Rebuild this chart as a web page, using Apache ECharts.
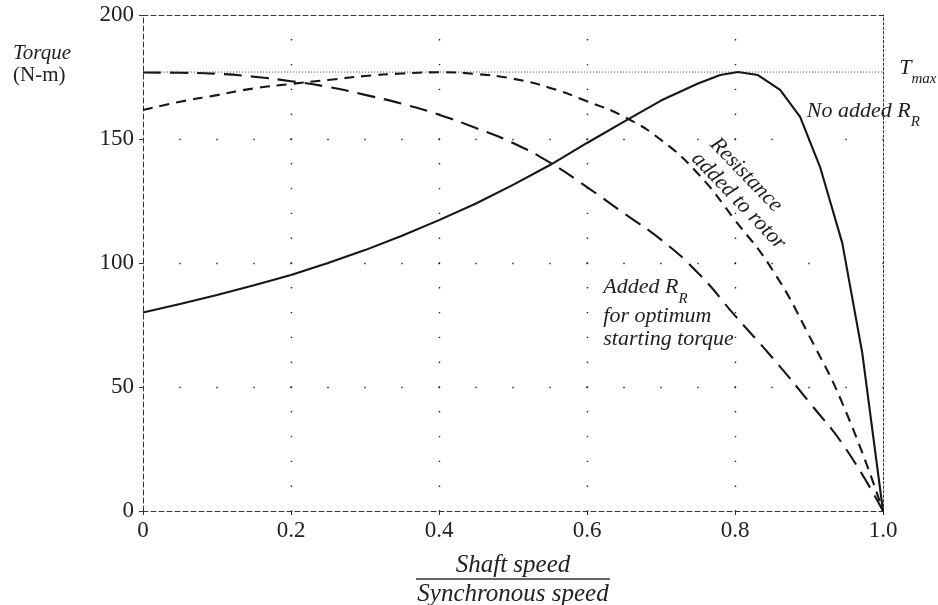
<!DOCTYPE html>
<html><head><meta charset="utf-8">
<script src="https://cdn.jsdelivr.net/npm/echarts@6/dist/echarts.min.js"></script>
<style>html,body{margin:0;padding:0;background:#fff}#c{width:938px;height:605px}</style>
</head><body><div id="c"></div>
<script>
// ---- data ----
const speedNoR  = [0, 0.05, 0.1, 0.15, 0.2, 0.25, 0.3, 0.35, 0.4, 0.45, 0.5, 0.55, 0.6, 0.65, 0.7, 0.75, 0.78, 0.804, 0.831, 0.861, 0.888, 0.915, 0.945, 0.972, 1.0];
const torqueNoR = [80, 83.5, 87.1, 91, 95.2, 100, 105.2, 111, 117.3, 124, 131.5, 139.5, 148.4, 157, 165.5, 172.4, 175.8, 177, 175.8, 169.8, 158.9, 138.7, 108, 63.7, 0];

const speedRotor  = [0, 0.05, 0.1, 0.15, 0.2, 0.25, 0.3, 0.35, 0.4, 0.45, 0.5, 0.55, 0.6, 0.65, 0.7, 0.75, 0.8, 0.85, 0.9, 0.95, 1.0];
const torqueRotor = [161.7, 165, 167.7, 170.4, 172.2, 173.8, 175.4, 176.4, 176.9, 176.2, 174.3, 170.6, 165.2, 159, 149.6, 136, 117.3, 97.5, 70.8, 40, 0];

const speedOpt  = [0, 0.05, 0.1, 0.15, 0.2, 0.25, 0.3, 0.35, 0.4, 0.45, 0.5, 0.55, 0.6, 0.65, 0.7, 0.75, 0.8, 0.85, 0.9, 0.95, 1.0];
const torqueOpt = [176.8, 176.7, 176.3, 175.1, 173.3, 171, 167.8, 164.2, 159.8, 154.4, 148.4, 140.5, 130.6, 120, 109.4, 96, 78.8, 62, 44, 25, 0];

const tMax = 177;
const tMaxLineEnd = 1.012;
const xTickLabels = ['0', '0.2', '0.4', '0.6', '0.8', '1.0'];
const yTickLabels = ['0', '50', '100', '150', '200'];

// ---- chart ----
const F = "'Liberation Serif','Times New Roman',serif";
const INK = '#161616';
const pair = (xs, ys) => xs.map((x, i) => [x, ys[i]]);
const chart = echarts.init(document.getElementById('c'));

const borderAxis = (pos, dash) => ({
  type: 'value', position: pos, min: 0,
  axisLine: { show: true, onZero: false, lineStyle: { color: '#333', width: 1, type: dash } },
  axisTick: { show: false }, axisLabel: { show: false }, splitLine: { show: false }
});

chart.setOption({
  animation: false,
  backgroundColor: '#fff',
  grid: { left: 143, right: 55, top: 15, bottom: 94, outerBoundsMode: 'none', containLabel: false },
  xAxis: [
    {
      type: 'value', position: 'bottom', min: 0, max: 1, interval: 0.2,
      axisLine: { show: true, onZero: false, lineStyle: { color: '#333', width: 1, type: [5, 3] } },
      axisTick: { show: true, length: 4, lineStyle: { color: '#333', width: 1 } },
      axisLabel: { fontFamily: F, fontSize: 23, color: '#222', margin: 8,
        formatter: v => xTickLabels[Math.round(v / 0.2)] },
      splitLine: { show: true, showMinLine: false, showMaxLine: false,
        lineStyle: { color: '#222', width: 1.4, type: [1.4, 23.4], dashOffset: 0.7 } }
    },
    Object.assign(borderAxis('top', [5, 3]), { max: 1, interval: 0.2 })
  ],
  yAxis: [
    {
      type: 'value', position: 'left', min: 0, max: 200, interval: 50,
      axisLine: { show: true, onZero: false, lineStyle: { color: '#333', width: 1, type: [5, 3] } },
      axisTick: { show: true, length: 4, lineStyle: { color: '#333', width: 1 } },
      axisLabel: { fontFamily: F, fontSize: 23, color: '#222', margin: 9,
        formatter: v => yTickLabels[Math.round(v / 50)] },
      splitLine: { show: true, showMinLine: false, showMaxLine: false,
        lineStyle: { color: '#222', width: 1.4, type: [1.4, 35.6], dashOffset: 0.7 } }
    },
    Object.assign(borderAxis('right', [2.5, 2]), { max: 200, interval: 50 })
  ],
  series: [
    { name: 'Tmax', type: 'line', clip: false, symbol: 'none', silent: true,
      data: [[0, tMax], [tMaxLineEnd, tMax]],
      lineStyle: { color: '#555', width: 1, type: [1.2, 1.8] }, z: 1 },
    { name: 'No added R_R', type: 'line', symbol: 'none', smooth: false,
      data: pair(speedNoR, torqueNoR),
      lineStyle: { color: INK, width: 2.1 }, z: 3 },
    { name: 'Resistance added to rotor', type: 'line', symbol: 'none', smooth: true,
      data: pair(speedRotor, torqueRotor),
      lineStyle: { color: INK, width: 2.1, type: [10, 7] }, z: 3 },
    { name: 'Added R_R for optimum starting torque', type: 'line', symbol: 'none', smooth: true,
      data: pair(speedOpt, torqueOpt),
      lineStyle: { color: INK, width: 2.1, type: [18, 9] }, z: 3 }
  ]
});

const P = (x, y) => chart.convertToPixel({ gridIndex: 0 }, [x, y]);
const txt = (pt, text, extra) => ({
  type: 'text', x: pt[0], y: pt[1], z: 10,
  style: Object.assign({ text: text, fontFamily: F, fontSize: 22, fontStyle: 'italic', fill: '#222',
    align: 'left', verticalAlign: 'middle' }, extra || {})
});
const subRich = {
  m: { fontFamily: F, fontStyle: 'italic', fontSize: 22, lineHeight: 30, fill: '#222', verticalAlign: 'top' },
  s: { fontFamily: F, fontStyle: 'italic', fontSize: 15, lineHeight: 15, fill: '#222', verticalAlign: 'bottom' }
};

const o = P(0, 0), e = P(1, 0);
const midX = (o[0] + e[0]) / 2;
const rot = -Math.PI / 4 - 0.02;

chart.setOption({
  graphic: [
    // y axis title
    { type: 'text', x: 13, y: 53, style: { text: 'Torque', fontFamily: F, fontStyle: 'italic', fontSize: 21, fill: '#222', verticalAlign: 'middle' } },
    { type: 'text', x: 13, y: 75, style: { text: '(N-m)', fontFamily: F, fontSize: 21, fill: '#222', verticalAlign: 'middle' } },
    // x axis title as a fraction
    { type: 'text', x: midX, y: o[1] + 54, style: { text: 'Shaft speed', fontFamily: F, fontStyle: 'italic', fontSize: 25, fill: '#222', align: 'center', verticalAlign: 'middle' } },
    { type: 'line', shape: { x1: midX - 97, y1: o[1] + 68, x2: midX + 97, y2: o[1] + 68 }, style: { stroke: '#333', lineWidth: 1.4 } },
    { type: 'text', x: midX, y: o[1] + 83, style: { text: 'Synchronous speed', fontFamily: F, fontStyle: 'italic', fontSize: 25, fill: '#222', align: 'center', verticalAlign: 'middle' } },
    // T max
    txt(P(1.022, tMax), '{m|T}{s|max}', { rich: subRich }),
    // No added R_R
    txt(P(0.897, 159.7), '{m|No added R}{s|R}', { rich: subRich }),
    // Resistance added to rotor
    { type: 'text', x: P(0.815, 135.5)[0], y: P(0.815, 135.5)[1], rotation: rot,
      style: { text: 'Resistance', fontFamily: F, fontStyle: 'italic', fontSize: 22, fill: '#222', align: 'center', verticalAlign: 'middle' } },
    { type: 'text', x: P(0.805, 125)[0], y: P(0.805, 125)[1], rotation: rot,
      style: { text: 'added to rotor', fontFamily: F, fontStyle: 'italic', fontSize: 22, fill: '#222', align: 'center', verticalAlign: 'middle' } },
    // Added R_R for optimum starting torque
    txt(P(0.622, 88.5), '{m|Added R}{s|R}', { rich: subRich }),
    txt(P(0.622, 78.6), 'for optimum'),
    txt(P(0.622, 69.4), 'starting torque')
  ]
});
</script></body></html>
